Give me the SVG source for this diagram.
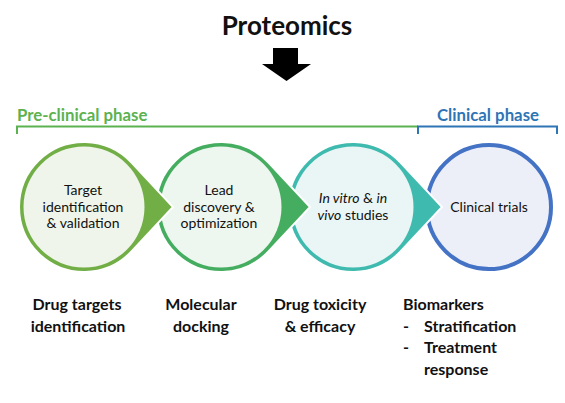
<svg xmlns="http://www.w3.org/2000/svg" width="565" height="403" viewBox="0 0 565 403">
<defs>
<style>
text{font-family:Lato,"Open Sans","Liberation Sans",sans-serif;fill:#111}
.title{font-size:26px;font-weight:bold;text-anchor:middle}
.phase{font-size:16.8px;font-weight:bold}
.in{font-size:14px;text-anchor:middle}
.lab{font-size:16px;font-weight:bold}
.mid{text-anchor:middle}
.drop{stroke:#fff;stroke-width:2}
</style>
</defs>
<rect width="565" height="403" fill="#fff"/>
<g id="title">
<text class="title" x="287" y="35">Proteomics</text>
<polygon points="273,48 298,48 298,64 311,64 286.5,81 262,64 273,64" fill="#000"/>
</g>
<g id="phases">
<text class="phase" x="17" y="121" style="fill:#5cb250">Pre-clinical phase</text>
<polyline points="17,134 17,126.5 418,126.5" fill="none" stroke="#5cb250" stroke-width="2"/>
<text class="phase" x="437" y="121" style="fill:#2e75b6">Clinical phase</text>
<polyline points="418,134 418,126.5 557,126.5 557,134" fill="none" stroke="#2e75b6" stroke-width="2"/>
</g>
<g id="node4">
<circle cx="489" cy="207" r="62" fill="#eceff8" stroke="#4472c4" stroke-width="4"/>
<text class="in" x="489" y="211.5">Clinical trials</text>
</g>
<g id="node3">
<path class="drop" d="M400.5,162.6 L442,207 L400.5,251.4 A65 65 0 1 1 400.5,162.6 Z" fill="#3fbaae"/>
<circle cx="353" cy="207" r="60.5" fill="#eaf6f6"/>
<text class="in" x="353" y="203"><tspan font-style="italic">In vitro</tspan> &amp; <tspan font-style="italic">in</tspan></text>
<text class="in" x="353" y="219.5"><tspan font-style="italic">vivo</tspan> studies</text>
</g>
<g id="node2">
<path class="drop" d="M268.5,162.6 L310,207 L268.5,251.4 A65 65 0 1 1 268.5,162.6 Z" fill="#45ad5f"/>
<circle cx="221" cy="207" r="60.5" fill="#edf6ef"/>
<text class="in" x="219" y="195">Lead</text>
<text class="in" x="219" y="211.5">discovery &amp;</text>
<text class="in" x="219" y="228">optimization</text>
</g>
<g id="node1">
<path class="drop" d="M131.5,162.6 L173,207 L131.5,251.4 A65 65 0 1 1 131.5,162.6 Z" fill="#72ae46"/>
<circle cx="84" cy="207" r="60.5" fill="#eff5ea"/>
<text class="in" x="83" y="195">Target</text>
<text class="in" x="83" y="211.5">identification</text>
<text class="in" x="83" y="228">&amp; validation</text>
</g>
<g id="labels">
<text class="lab mid" x="77" y="310">Drug targets</text>
<text class="lab mid" x="78" y="331.5">identification</text>
<text class="lab mid" x="201" y="310">Molecular</text>
<text class="lab mid" x="201" y="331.5">docking</text>
<text class="lab mid" x="320" y="310">Drug toxicity</text>
<text class="lab mid" x="320" y="331.5">&amp; efficacy</text>
<text class="lab" x="403" y="310">Biomarkers</text>
<text class="lab" x="403" y="331.5">-</text>
<text class="lab" x="424" y="331.5">Stratification</text>
<text class="lab" x="403" y="353">-</text>
<text class="lab" x="424" y="353">Treatment</text>
<text class="lab" x="424" y="374.5">response</text>
</g>
</svg>
